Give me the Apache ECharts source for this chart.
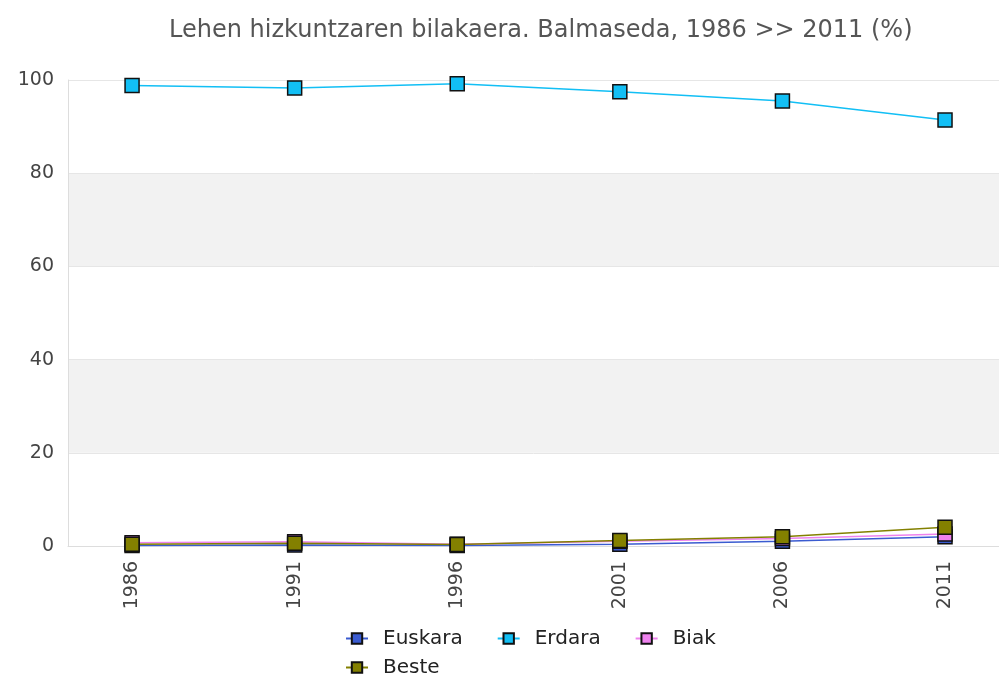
<!DOCTYPE html>
<html>
<head>
<meta charset="utf-8">
<script src="https://cdn.jsdelivr.net/npm/echarts@6/dist/echarts.min.js"></script>
<style>
  html, body { margin: 0; padding: 0; background: #fff; }
  #chart { width: 999px; height: 679px; }
</style>
</head>
<body>
<div id="chart"></div>
<script>
// urteak eta serieak
const years = [1986, 1991, 1996, 2001, 2006, 2011]
const euskara = [0.1, 0.2, 0.1, 0.4, 1.0, 2.0]
const erdara = [98.8, 98.3, 99.2, 97.5, 95.5, 91.4]
const biak = [0.7, 0.9, 0.4, 1.0, 1.6, 2.6]
const beste = [0.4, 0.6, 0.3, 1.2, 2.0, 4.0]

const FONT = '"DejaVu Sans", sans-serif'
const chart = echarts.init(document.getElementById('chart'))

function line(name, data, color) {
  return {
    name: name,
    type: 'line',
    data: years.map((y, i) => [y, data[i]]),
    symbol: 'rect',
    symbolSize: 14,
    lineStyle: { color: color, width: 1.5 },
    itemStyle: { color: color, borderColor: '#111', borderWidth: 1.5 },
    emphasis: { disabled: true },
  }
}

chart.setOption({
  animation: false,
  title: {
    text: 'Lehen hizkuntzaren bilakaera. Balmaseda, 1986 >> 2011 (%)',
    left: 164,
    top: 14,
    textStyle: { color: '#555', fontSize: 24, fontWeight: 'normal', fontFamily: FONT },
  },
  legend: {
    left: 345,
    top: 628,
    width: 420,
    itemWidth: 22,
    itemHeight: 13,
    itemGap: 8,
    padding: 0,
    textStyle: {
      color: '#222', fontSize: 20, lineHeight: 21, fontFamily: FONT,
      padding: [0, 26, 0, 10],
    },
    data: ['Euskara', 'Erdara', 'Biak', 'Beste'],
  },
  grid: { left: 68, right: 0, top: 80, bottom: 133 },
  xAxis: {
    type: 'value',
    min: 1984.03,
    max: 2012.66,
    axisLine: { show: true, lineStyle: { color: '#ddd' } },
    axisTick: { show: false },
    splitLine: { show: false },
    axisLabel: {
      customValues: years,
      formatter: v => String(v),
      rotate: 90,
      color: '#444',
      fontSize: 19,
      fontFamily: FONT,
      margin: 15,
    },
  },
  yAxis: {
    type: 'value',
    min: 0,
    max: 100,
    interval: 20,
    axisLine: { show: true, lineStyle: { color: '#ddd' } },
    axisTick: { show: false },
    splitLine: { lineStyle: { color: '#e6e6e6' } },
    splitArea: { show: true, areaStyle: { color: ['#fff', '#f2f2f2'] } },
    axisLabel: { color: '#444', fontSize: 19, fontFamily: FONT, margin: 14 },
  },
  series: [
    line('Euskara', euskara, '#3a5bd0'),
    line('Erdara', erdara, '#12bff5'),
    line('Biak', biak, '#ee82ee'),
    line('Beste', beste, '#838000'),
  ],
})
</script>
</body>
</html>
